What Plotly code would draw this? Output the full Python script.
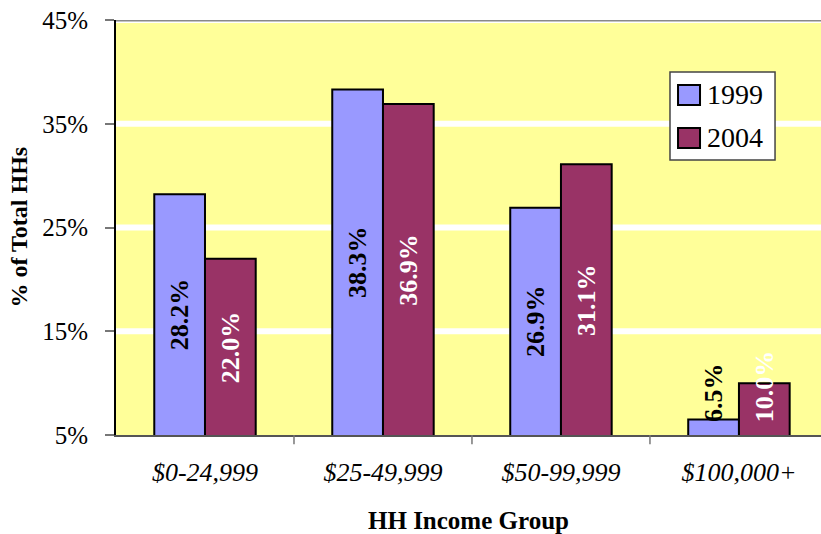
import plotly.graph_objects as go

# Household income distribution, share of total households
categories = ["$0-24,999", "$25-49,999", "$50-99,999", "$100,000+"]
years = ["1999", "2004"]
share_1999 = [28.2, 38.3, 26.9, 6.5]
share_2004 = [22.0, 36.9, 31.1, 10.0]
y_ticks = [5, 15, 25, 35, 45]

FONT = "Liberation Serif"
BAR_COLORS = {"1999": "#9999FF", "2004": "#993366"}
LABEL_COLORS = {"1999": "black", "2004": "white"}
Y_MIN, Y_MAX = 5, 45
BAR_W = 0.285
MIN_CENTER_SPAN = 8.0  # bars shorter than this get their label anchored to the base

x_idx = list(range(len(categories)))

fig = go.Figure()
series = {"1999": share_1999, "2004": share_2004}
for year in years:
    fig.add_trace(go.Bar(
        name=year,
        x=x_idx,
        y=series[year],
        marker=dict(color=BAR_COLORS[year], line=dict(color="black", width=2)),
        hoverinfo="skip",
        showlegend=False,
    ))

annotations = []
for k, year in enumerate(years):
    offset = (k - 0.5) * BAR_W
    for i, v in enumerate(series[year]):
        txt = f"{v:.1f}%"
        if v - Y_MIN >= MIN_CENTER_SPAN:
            ann = dict(y=(Y_MIN + v) / 2, yanchor="middle", yshift=0)
        else:
            ann = dict(y=Y_MIN, yanchor="bottom", yshift=11)
        ann.update(
            x=i + offset, xref="x", yref="y", text=f"<b>{txt}</b>",
            showarrow=False, textangle=-90, xanchor="center",
            font=dict(family=FONT, size=26, color=LABEL_COLORS[year]),
        )
        annotations.append(ann)

# axis titles
annotations.append(dict(
    x=0.5, y=-0.205, xref="paper", yref="paper", text="<b>HH Income Group</b>",
    showarrow=False, xanchor="center", yanchor="middle",
    font=dict(family=FONT, size=25, color="black"),
))
annotations.append(dict(
    x=-0.139, y=0.5, xref="paper", yref="paper", text="<b>% of Total HHs</b>",
    showarrow=False, xanchor="center", yanchor="middle", textangle=-90,
    font=dict(family=FONT, size=24, color="black"),
))

shapes = []
# white gridlines inside the plot area
for t in y_ticks[1:]:
    shapes.append(dict(type="line", xref="paper", yref="y", x0=0, x1=1, y0=t, y1=t,
                       line=dict(color="white", width=6), layer="below"))
# grey top border
shapes.append(dict(type="line", xref="paper", yref="y", x0=0, x1=1, y0=Y_MAX, y1=Y_MAX,
                   line=dict(color="#888888", width=3), layer="above"))
# tick marks between category groups
for i in x_idx[:-1]:
    shapes.append(dict(type="line", xref="x", yref="paper", x0=i + 0.5, x1=i + 0.5,
                       y0=0, y1=-0.022, line=dict(color="#777777", width=1.5)))

# legend box with square swatches
LEG_X0, LEG_X1, LEG_Y0, LEG_Y1 = 0.7858, 0.9348, 0.6627, 0.8747
shapes.append(dict(type="rect", xref="paper", yref="paper",
                   x0=LEG_X0, x1=LEG_X1, y0=LEG_Y0, y1=LEG_Y1,
                   fillcolor="white", line=dict(color="#444444", width=1.5), layer="above"))
swatch_rows = [(0.7952, 0.8434, 0.8193), (0.6916, 0.7398, 0.7157)]
for year, (sy0, sy1, ty) in zip(years, swatch_rows):
    shapes.append(dict(type="rect", xref="paper", yref="paper",
                       x0=0.7972, x1=0.8284, y0=sy0, y1=sy1,
                       fillcolor=BAR_COLORS[year], line=dict(color="black", width=2),
                       layer="above"))
    annotations.append(dict(
        x=0.8355, y=ty, xref="paper", yref="paper", text=year, showarrow=False,
        xanchor="left", yanchor="middle",
        font=dict(family=FONT, size=28, color="black"),
    ))

fig.update_layout(
    width=821, height=534,
    margin=dict(l=116, r=0, t=20, b=99),
    paper_bgcolor="white",
    plot_bgcolor="#FFFF99",
    barmode="group",
    bargap=1 - 2 * BAR_W,
    bargroupgap=0,
    font=dict(family=FONT, color="black"),
    annotations=annotations,
    shapes=shapes,
)

fig.update_xaxes(
    range=[-0.5, 3.461],
    tickvals=x_idx, ticktext=categories,
    ticks="", showgrid=False, zeroline=False,
    showline=True, linecolor="#555555", linewidth=2,
    tickfont=dict(family=FONT, size=26, color="black", style="italic"),
    ticklabelstandoff=13,
)
fig.update_yaxes(
    range=[Y_MIN, Y_MAX],
    tickvals=y_ticks, ticktext=[f"{t}%" for t in y_ticks],
    ticks="outside", ticklen=9, tickwidth=1.5, tickcolor="#777777",
    showgrid=False, zeroline=False,
    showline=True, linecolor="black", linewidth=2,
    tickfont=dict(family=FONT, size=25, color="black"),
    ticklabelstandoff=12,
)

fig.write_html("out.html")
